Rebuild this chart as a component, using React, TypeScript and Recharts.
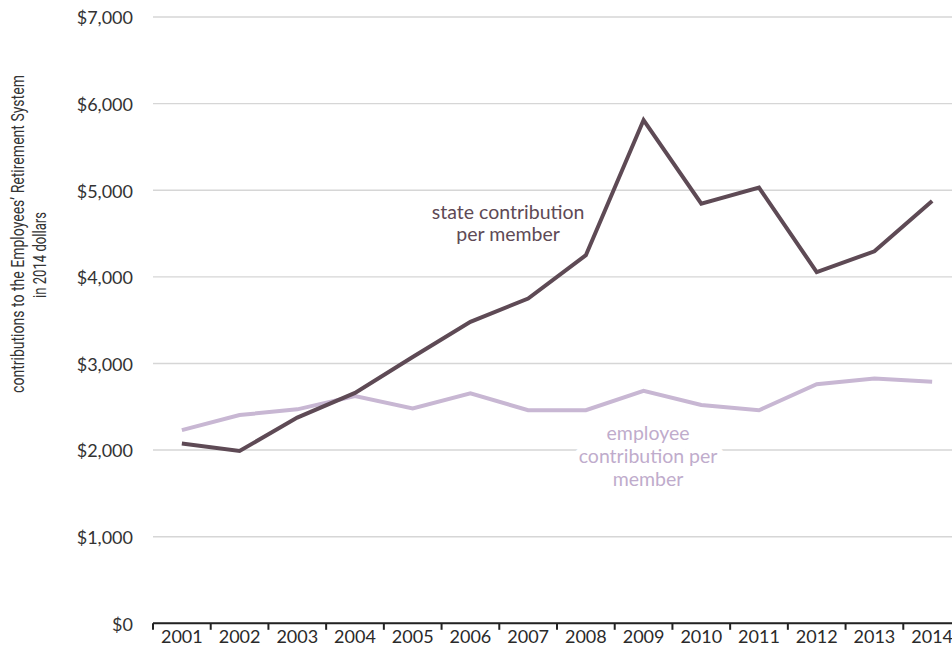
import React from 'react';
import { ComposedChart, Line, XAxis, YAxis, CartesianGrid, ReferenceDot } from 'recharts';

const years = ['2001', '2002', '2003', '2004', '2005', '2006', '2007', '2008', '2009', '2010', '2011', '2012', '2013', '2014'];
const stateContribution = [2075, 1990, 2375, 2660, 3075, 3480, 3750, 4250, 5810, 4845, 5030, 4055, 4295, 4875];
const employeeContribution = [2230, 2405, 2470, 2625, 2480, 2655, 2460, 2460, 2685, 2520, 2460, 2760, 2825, 2790];
const yTicks = [0, 1000, 2000, 3000, 4000, 5000, 6000, 7000];

const stateLabel = ['state contribution', 'per member'];
const employeeLabel = ['employee', 'contribution per', 'member'];
const yAxisTitle = ['contributions to the Employees\u2019 Retirement System', 'in 2014 dollars'];

const data = years.map((year, i) => ({
  year,
  state: stateContribution[i],
  employee: employeeContribution[i],
}));

const CHART_W = 962;
const CHART_H = 660;
const Y_AXIS_W = 153;
const MARGIN = { top: 17, right: 1, bottom: 6.7, left: 0 };
const PLOT_W = CHART_W - Y_AXIS_W - MARGIN.left - MARGIN.right;
const HALF_BAND = PLOT_W / years.length / 2;

const FONT = 'Lato, "Open Sans", sans-serif';
const WEIGHT = 400;
const STATE_COLOR = '#5e4a55';
const EMP_COLOR = '#c8b7d3';
const EMP_TEXT = '#bfaccc';

const TITLE_FONT_SIZE = 17.5;
const TITLE_FONT = 'Roboto, sans-serif';

function measure(text: string, size: number, family: string): number {
  try {
    const c = document.createElement('canvas');
    const ctx = c.getContext('2d');
    if (ctx) {
      ctx.font = `400 ${size}px ${family}`;
      return ctx.measureText(text).width;
    }
  } catch (e) {
    /* ignore */
  }
  return text.length * size * 0.5;
}

const XTick = (props: any) => {
  const { x, y, payload } = props;
  const bx = x - HALF_BAND;
  return (
    <g>
      <line x1={bx} x2={bx} y1={y - 7} y2={y - 0.5} stroke="#222" strokeWidth={2} />
      <text x={x} y={y} dy="0.71em" textAnchor="middle" fill="#2a2a2a" fontSize={18} fontWeight={WEIGHT} fontFamily={FONT}>
        {payload.value}
      </text>
    </g>
  );
};

const YTick = (props: any) => {
  const { x, y, payload } = props;
  return (
    <text x={x} y={y + 1} dy="0.355em" textAnchor="end" fill="#333" fontSize={18} fontWeight={WEIGHT} fontFamily={FONT}>
      {'$' + Number(payload.value).toLocaleString('en-US')}
    </text>
  );
};

const TitleLine = ({ cx, cy, text, length }: { cx: number; cy: number; text: string; length: number }) => {
  const natural = measure(text, TITLE_FONT_SIZE, TITLE_FONT);
  const sx = natural > 0 ? length / natural : 1;
  return (
    <g transform={`translate(${cx} ${cy}) rotate(-90) scale(${sx} 1)`}>
      <text x={0} y={0} textAnchor="middle" dominantBaseline="central" fill="#333" fontSize={TITLE_FONT_SIZE} fontWeight={400} fontFamily={TITLE_FONT}>
        {text}
      </text>
    </g>
  );
};

const YTitle = (props: any) => {
  const vb = props.viewBox || { x: 0, y: MARGIN.top };
  const x0 = vb.x;
  return (
    <g>
      <TitleLine cx={x0 + 18} cy={234} text={yAxisTitle[0]} length={318} />
      <TitleLine cx={x0 + 40} cy={255} text={yAxisTitle[1]} length={86} />
    </g>
  );
};

const StateNote = (props: any) => {
  const vb = props.viewBox || { x: 0, y: 0 };
  const cx = vb.x - 20;
  const cy = vb.y;
  return (
    <text textAnchor="middle" fill={STATE_COLOR} fontSize={19.5} fontWeight={WEIGHT} fontFamily={FONT}>
      {stateLabel.map((t, i) => (
        <tspan key={i} x={cx} y={cy + 2.5 + i * 22.5}>{t}</tspan>
      ))}
    </text>
  );
};

const EmployeeNote = (props: any) => {
  const vb = props.viewBox || { x: 0, y: 0 };
  const cx = vb.x + 4.5;
  const cy = vb.y;
  return (
    <text
      textAnchor="middle"
      fill={EMP_TEXT}
      fontSize={19.5}
      fontWeight={WEIGHT}
      fontFamily={FONT}
      stroke="#ffffff"
      strokeWidth={12}
      strokeLinejoin="round"
      style={{ paintOrder: 'stroke' }}
    >
      {employeeLabel.map((t, i) => (
        <tspan key={i} x={cx} y={cy + 7 + i * 23}>{t}</tspan>
      ))}
    </text>
  );
};

export default function App() {
  return (
    <div style={{ position: 'absolute', left: 0, top: 0, width: 952, height: 660, overflow: 'hidden', background: '#fff' }}>
      <ComposedChart width={CHART_W} height={CHART_H} data={data} margin={MARGIN}>
        <CartesianGrid vertical={false} horizontal stroke="#d6d6d6" strokeWidth={1.4} />
        <XAxis
          dataKey="year"
          scale="band"
          height={30}
          interval={0}
          axisLine={{ stroke: '#222', strokeWidth: 2 }}
          tickLine={false}
          tickSize={6}
          tickMargin={1}
          tick={<XTick />}
        />
        <YAxis
          width={Y_AXIS_W}
          domain={[0, 7000]}
          ticks={yTicks}
          interval={0}
          axisLine={false}
          tickLine={false}
          tickSize={0}
          tickMargin={20}
          tick={<YTick />}
          label={{ content: <YTitle /> }}
        />
        <Line type="linear" dataKey="employee" stroke={EMP_COLOR} strokeWidth={4} dot={false} activeDot={false} isAnimationActive={false} />
        <Line type="linear" dataKey="state" stroke={STATE_COLOR} strokeWidth={4} dot={false} activeDot={false} isAnimationActive={false} />
        <ReferenceDot x="2007" y={4700} r={0} stroke="none" fill="none" label={{ content: <StateNote /> }} />
        <ReferenceDot x="2009" y={2200} r={0} stroke="none" fill="none" label={{ content: <EmployeeNote /> }} />
      </ComposedChart>
    </div>
  );
}
